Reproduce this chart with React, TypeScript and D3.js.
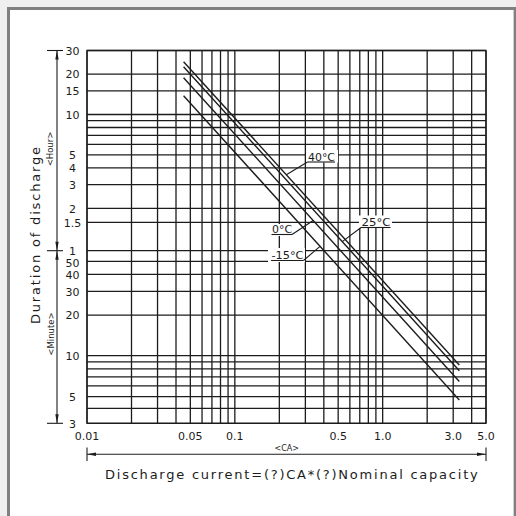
import React from "react";
import * as d3 from "d3";

// ---- data ----
const caGrid = [0.01, 0.02, 0.03, 0.04, 0.05, 0.06, 0.07, 0.08, 0.09, 0.1, 0.2, 0.3, 0.4, 0.5, 0.6, 0.7, 0.8, 0.9, 1, 2, 3, 4, 5];
const caLabelValues = [0.01, 0.05, 0.1, 0.5, 1, 3, 5];
const caLabelTexts = ["0.01", "0.05", "0.1", "0.5", "1.0", "3.0", "5.0"];

const hourGrid = [30, 20, 15, 10, 9, 8, 7, 6, 5, 4, 3, 2, 1.5, 1];
const hourLabels = [30, 20, 15, 10, 5, 4, 3, 2, 1.5, 1];
const minuteGrid = [50, 40, 30, 20, 10, 9, 8, 7, 6, 5, 4, 3];
const minuteLabels = [50, 40, 30, 20, 10, 5, 3];

const seriesNames = ["40°C", "25°C", "0°C", "-15°C"];
const currentCA = [0.045, 3.3];
// duration of discharge in minutes at the two ends
const dur40 = [1485, 8.55];
const dur25 = [1364, 7.76];
const dur0 = [1128, 6.46];
const durM15 = [829, 4.69];
const leaderCA = [0.223, 0.533, 0.339, 0.377];

const title = "Discharge current=(?)CA*(?)Nominal capacity";
const yTitle = "Duration of discharge";

export default function App() {
  const x = d3.scaleLog().domain([0.01, 5]).range([87, 486]);
  // piecewise log scale (minutes), as drawn on the chart
  const y = d3
    .scaleLog()
    .domain([1800, 120, 90, 60, 10, 5, 3])
    .range([50.5, 208.3, 222.3, 250.7, 355.7, 396.7, 423.3]);

  const series = [dur40, dur25, dur0, durM15];
  const line = d3
    .line<[number, number]>()
    .x((d) => x(d[0]))
    .y((d) => y(d[1]));

  const pointOn = (s: number[], ca: number) => {
    const x0 = x(currentCA[0]), x1 = x(currentCA[1]);
    const y0 = y(s[0]), y1 = y(s[1]);
    const px = x(ca);
    const t = (px - x0) / (x1 - x0);
    return [px, y0 + t * (y1 - y0)];
  };

  const L = 87, R = 486, T = y(1800), B = y(3);
  const ink = "#1c1c1c";
  const font = "DejaVu Sans, sans-serif";

  const labels = [
    { tx: 308, ty: 160.5, w: 27, side: "left", mask: [306, 150, 32, 12.5] },
    { tx: 361.5, ty: 226, w: 29, side: "left", mask: [359, 215.5, 33, 12.5] },
    { tx: 272, ty: 233, w: 20, side: "right", mask: [270, 224, 23, 12] },
    { tx: 271.5, ty: 259, w: 32, side: "right", mask: [268, 248, 37, 14] },
  ];

  const ticksY = [1800, 60, 3];

  return (
    <svg width={516} height={516} style={{ position: "absolute", left: 0, top: 0 }}>
      <rect x={0} y={0} width={516} height={516} fill="#efefef" />
      <rect x={7} y={7} width={509} height={509} fill="#808080" />
      <rect x={10} y={10} width={503} height={506} fill="#ffffff" />
      <line x1={513.5} y1={10} x2={513.5} y2={516} stroke="#cfcfcf" strokeWidth={1} />

      <g stroke={ink} strokeWidth={1.3}>
        {caGrid.map((v) => (
          <line key={"v" + v} x1={x(v)} x2={x(v)} y1={T} y2={B} />
        ))}
        {hourGrid.map((h) => (
          <line key={"h" + h} x1={L} x2={R} y1={y(h * 60)} y2={y(h * 60)} />
        ))}
        {minuteGrid.map((m) => (
          <line key={"m" + m} x1={L} x2={R} y1={y(m)} y2={y(m)} />
        ))}
        <rect x={L} y={T} width={R - L} height={B - T} fill="none" />
      </g>

      <g stroke={ink} strokeWidth={1.4} fill="none">
        {series.map((s, i) => (
          <path key={i} d={line(currentCA.map((c, j) => [c, s[j]] as [number, number])) || ""} />
        ))}
      </g>

      {labels.map((lb, i) => {
        const [px, py] = pointOn(series[i], leaderCA[i]);
        const uy = lb.ty + 1.5;
        const ux1 = lb.tx - 0.5, ux2 = lb.tx + lb.w;
        const sx = lb.side === "left" ? ux1 : ux2;
        return (
          <g key={"lb" + i}>
            <rect x={lb.mask[0]} y={lb.mask[1]} width={lb.mask[2]} height={lb.mask[3]} fill="#fff" />
            <line x1={ux1} x2={ux2} y1={uy} y2={uy} stroke={ink} strokeWidth={1.1} />
            <line x1={sx} y1={uy} x2={px} y2={py} stroke={ink} strokeWidth={1.1} />
            <text x={lb.tx} y={lb.ty} fontFamily={font} fontSize={10.5} fill={ink} textLength={lb.w} lengthAdjust="spacingAndGlyphs">
              {seriesNames[i]}
            </text>
          </g>
        );
      })}

      <g fontFamily={font} fontSize={11} fill={ink} textAnchor="middle">
        {hourLabels.map((h) => (
          <text key={"hl" + h} x={72.5} y={y(h * 60) + 4.2}>
            {String(h)}
          </text>
        ))}
        {minuteLabels.map((m) => (
          <text key={"ml" + m} x={72.5} y={y(m) + 4.2 + (m === 50 ? 1 : 0)}>
            {String(m)}
          </text>
        ))}
      </g>

      <g stroke={ink} strokeWidth={1.1}>
        <line x1={57} x2={57} y1={T} y2={B} />
        {ticksY.map((t) => (
          <line key={"ty" + t} x1={47} x2={63} y1={y(t)} y2={y(t)} />
        ))}
      </g>
      <g fill={ink}>
        <path d={`M57,${T} L55.3,${T + 9} L58.7,${T + 9} Z`} />
        <path d={`M57,${y(60)} L55.3,${y(60) - 9} L58.7,${y(60) - 9} Z`} />
        <path d={`M57,${y(60)} L55.3,${y(60) + 9} L58.7,${y(60) + 9} Z`} />
        <path d={`M57,${B} L55.3,${B - 9} L58.7,${B - 9} Z`} />
      </g>
      <text transform={`translate(52.5,149) rotate(-90)`} fontFamily={font} fontSize={8.5} fill={ink} textAnchor="middle">
        {"<Hour>"}
      </text>
      <text transform={`translate(53.5,334) rotate(-90)`} fontFamily={font} fontSize={8.5} fill={ink} textAnchor="middle">
        {"<Minute>"}
      </text>
      <text transform={`translate(40,324) rotate(-90)`} fontFamily={font} fontSize={13} fill={ink} textLength={177} lengthAdjust="spacing">
        {yTitle}
      </text>

      <g fontFamily={font} fontSize={11} fill={ink} textAnchor="middle">
        {caLabelValues.map((v, i) => (
          <text key={"xl" + v} x={x(v)} y={439.5}>
            {caLabelTexts[i]}
          </text>
        ))}
      </g>

      <g stroke={ink} strokeWidth={1.1}>
        <line x1={L} x2={R} y1={454.3} y2={454.3} />
        <line x1={L} x2={L} y1={447.5} y2={461} />
        <line x1={R} x2={R} y1={447.5} y2={461} />
      </g>
      <g fill={ink}>
        <path d={`M${L},454.3 L${L + 9},452.6 L${L + 9},456 Z`} />
        <path d={`M${R},454.3 L${R - 9},452.6 L${R - 9},456 Z`} />
      </g>
      <text x={286.8} y={451} fontFamily={font} fontSize={8} fill={ink} textAnchor="middle">
        {"<CA>"}
      </text>

      <text x={105} y={478.5} fontFamily={font} fontSize={13} fill={ink} textLength={372.7} lengthAdjust="spacing">
        {title}
      </text>
    </svg>
  );
}
